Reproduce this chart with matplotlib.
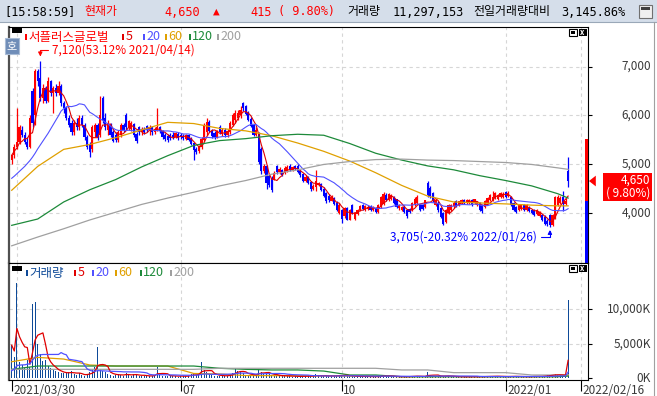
import numpy as np
import pandas as pd
import matplotlib
matplotlib.use("Agg")
import matplotlib.pyplot as plt
from matplotlib.patches import Rectangle, Polygon
from matplotlib.lines import Line2D
from matplotlib.transforms import blended_transform_factory as blend

W, H = 657, 396
KR = ['Noto Sans CJK KR', 'DejaVu Sans']
MONO = ['DejaVu Sans Mono', 'Noto Sans CJK KR']

# ---------------- data ----------------
stock_name = "서플러스글로벌"
clock = "15:58:59"
today_volume = 11297153
volume_ratio = 3145.86
hi_change = 53.12
lo_change = -20.32

holidays = ["2021-05-05", "2021-05-19", "2021-08-16", "2021-09-20", "2021-09-21",
            "2021-09-22", "2021-10-04", "2021-10-11", "2021-12-31", "2022-01-31",
            "2022-02-01", "2022-02-02"]

opens = [5080, 5180, 5350, 5450, 5700, 5600, 5450, 5350, 6500, 6000,
         6900, 6760, 6350, 6550, 6300, 6700, 6450, 6550, 6450, 6600,
         6250, 6150, 5950, 5850, 5650, 5850, 5750, 5950, 5800, 5550,
         5400, 5300, 5650, 5800, 5600, 6350, 5950, 5700, 5800, 5650,
         5600, 5500, 5600, 5800, 6000, 5750, 5720, 5820, 5620, 5750,
         5650, 5720, 5780, 5700, 5750, 5650, 5700, 5760, 5680, 5600,
         5580, 5600, 5600, 5560, 5620, 5600, 5580, 5520, 5590, 5520,
         5420, 5300, 5260, 5340, 5500, 5650, 5860, 5680, 5640, 5560,
         5760, 5610, 5700, 5600, 5650, 5800, 5900, 5950, 6000, 6250,
         6180, 6040, 5920, 5800, 5600, 5620, 5300, 4850, 4950, 4760,
         4720, 4700, 4950, 4830, 4870, 4810, 4850, 4960, 4880, 4950,
         4960, 4860, 4790, 4650, 4740, 4620, 4480, 4530, 4560, 4580,
         4490, 4400, 4350, 4250, 4300, 4200, 3990, 4050, 3930, 4090,
         3860, 4150, 3870, 3980, 4060, 4160, 4060, 4080, 4130, 4050,
         4090, 4020, 4110, 4170, 4360, 4260, 4280, 4330, 4270, 4090,
         4060, 4120, 4060, 4080, 4050, 4150, 4200, 4150, 4150, 4110,
         4600, 4500, 4400, 4160, 4200, 4090, 3990, 3800, 3990, 4050,
         4130, 4230, 4160, 4200, 4260, 4190, 4200, 4260, 4200, 4160,
         4190, 4150, 4120, 4190, 4260, 4260, 4300, 4290, 4330, 4330,
         4430, 4340, 4320, 4190, 4120, 4050, 4080, 4150, 4060, 4100,
         4060, 4050, 3980, 3940, 3960, 3920, 3830, 3950, 3740, 3900,
         4160, 4200, 4320, 4180, 4850]
highs = [5200, 5400, 6150, 5800, 5780, 5650, 5550, 6000, 6550, 6950,
         6950, 7120, 6650, 6600, 6780, 6720, 6600, 6650, 6700, 6650,
         6300, 6200, 6000, 5900, 5900, 5950, 6000, 6000, 5850, 5600,
         5450, 5800, 5850, 5850, 6400, 6400, 6050, 5900, 5850, 5700,
         5650, 5700, 5850, 5850, 6050, 5900, 5880, 5850, 5650, 5780,
         5750, 5760, 5800, 5800, 5780, 5760, 6150, 5780, 5700, 5640,
         5620, 5640, 5650, 5660, 5650, 5640, 5620, 5610, 5620, 5560,
         5440, 5350, 5380, 5560, 5850, 5950, 5900, 5720, 5680, 5700,
         5800, 5740, 5730, 5720, 5880, 6050, 6100, 6100, 6200, 6280,
         6220, 6080, 5960, 5830, 5750, 5650, 5350, 4990, 4970, 4800,
         4750, 4850, 4980, 4940, 4900, 4950, 4980, 5000, 4960, 4980,
         5000, 4880, 4820, 4770, 4760, 4650, 4580, 4880, 4640, 4600,
         4520, 4420, 4380, 4360, 4330, 4230, 4200, 4080, 4120, 4120,
         4080, 4180, 4010, 4080, 4150, 4180, 4160, 4150, 4150, 4130,
         4110, 4170, 4350, 4420, 4400, 4410, 4380, 4350, 4290, 4180,
         4140, 4150, 4080, 4100, 4210, 4320, 4360, 4180, 4170, 4270,
         4650, 4550, 4430, 4290, 4230, 4110, 4010, 4080, 4170, 4180,
         4230, 4260, 4250, 4290, 4280, 4280, 4290, 4280, 4290, 4240,
         4220, 4170, 4260, 4320, 4380, 4440, 4420, 4380, 4420, 4420,
         4450, 4440, 4340, 4210, 4140, 4160, 4170, 4170, 4170, 4130,
         4080, 4070, 4070, 4040, 3980, 3950, 3870, 3980, 3980, 4350,
         4360, 4340, 4450, 4300, 5150]
lows = [5000, 5120, 5300, 5400, 5550, 5400, 5300, 5330, 5750, 5800,
        6600, 6300, 6250, 6250, 6280, 6400, 6050, 6400, 6420, 6200,
        6050, 5900, 5750, 5600, 5600, 5700, 5700, 5750, 5500, 5300,
        5150, 5250, 5550, 5500, 5550, 5850, 5700, 5600, 5550, 5450,
        5450, 5450, 5550, 5650, 5700, 5700, 5680, 5550, 5430, 5600,
        5600, 5620, 5650, 5600, 5600, 5620, 5680, 5640, 5520, 5480,
        5460, 5500, 5520, 5540, 5500, 5520, 5500, 5490, 5470, 5380,
        5080, 5200, 5220, 5300, 5480, 5600, 5650, 5540, 5520, 5540,
        5620, 5580, 5560, 5560, 5620, 5780, 5850, 5900, 5950, 6080,
        6000, 5880, 5750, 5580, 5580, 5000, 4800, 4820, 4480, 4520,
        4430, 4680, 4800, 4800, 4750, 4790, 4830, 4850, 4860, 4870,
        4820, 4740, 4640, 4620, 4580, 4450, 4460, 4450, 4540, 4440,
        4330, 4200, 4220, 4230, 4150, 4030, 3970, 3780, 3900, 3840,
        3840, 3980, 3850, 3960, 4040, 4060, 4040, 4060, 4030, 4030,
        3990, 4000, 4090, 4150, 4230, 4240, 4260, 4170, 4090, 4060,
        4040, 4000, 3900, 4000, 4030, 4130, 4180, 4040, 4060, 4090,
        4330, 4300, 4220, 4140, 4020, 3900, 3750, 3780, 3970, 4030,
        4100, 4110, 4140, 4180, 4180, 4170, 4180, 4140, 4180, 4140,
        4040, 4000, 4100, 4170, 4240, 4240, 4280, 4270, 4310, 4310,
        4300, 4320, 4140, 4030, 4000, 4030, 4060, 4040, 4040, 4010,
        3980, 3940, 3960, 3920, 3830, 3740, 3720, 3705, 3720, 3880,
        4140, 4180, 4030, 4160, 4520]
closes = [5180, 5350, 5450, 5750, 5600, 5450, 5350, 5950, 5850, 6900,
          6700, 6350, 6550, 6300, 6700, 6450, 6550, 6450, 6600, 6250,
          6150, 5950, 5800, 5650, 5850, 5750, 5950, 5800, 5550, 5350,
          5250, 5750, 5800, 5550, 6000, 5900, 5750, 5850, 5600, 5480,
          5500, 5650, 5800, 5700, 5750, 5880, 5850, 5600, 5480, 5650,
          5720, 5650, 5700, 5750, 5650, 5720, 5760, 5680, 5560, 5520,
          5500, 5540, 5560, 5630, 5540, 5560, 5540, 5590, 5500, 5400,
          5280, 5250, 5340, 5520, 5800, 5870, 5680, 5580, 5560, 5680,
          5650, 5700, 5600, 5680, 5850, 6000, 6050, 6050, 6100, 6150,
          6020, 5900, 5780, 5600, 5700, 5050, 4850, 4950, 4600, 4570,
          4470, 4820, 4840, 4900, 4780, 4920, 4940, 4870, 4940, 4900,
          4840, 4770, 4660, 4740, 4600, 4480, 4550, 4640, 4600, 4470,
          4350, 4230, 4260, 4330, 4180, 4050, 4160, 3880, 4090, 3860,
          4060, 4000, 3990, 4060, 4130, 4080, 4140, 4120, 4050, 4110,
          4020, 4150, 4330, 4390, 4260, 4380, 4360, 4190, 4120, 4160,
          4120, 4020, 3930, 4020, 4190, 4290, 4330, 4060, 4080, 4250,
          4360, 4330, 4250, 4260, 4050, 3920, 3770, 4060, 4150, 4160,
          4200, 4130, 4230, 4260, 4200, 4250, 4260, 4160, 4270, 4210,
          4060, 4030, 4240, 4300, 4360, 4330, 4400, 4360, 4400, 4390,
          4320, 4400, 4160, 4050, 4020, 4130, 4150, 4060, 4150, 4030,
          4000, 3960, 4050, 4020, 3850, 3760, 3760, 3740, 3950, 4320,
          4330, 4310, 4180, 4235, 4650]
# volume in thousand shares
volumes = [4800, 3100, 13800, 2400, 2000, 1500, 2600, 1700, 10800, 11100,
           5000, 3500, 2500, 2600, 1800, 1500, 1200, 1000, 900, 800,
           700, 700, 900, 1100, 600, 500, 700, 500, 400, 600,
           900, 1300, 1700, 4500, 1400, 1100, 900, 600, 500, 400,
           500, 600, 500, 400, 700, 500, 400, 600, 500, 400,
           300, 400, 350, 300, 400, 500, 1700, 500, 400, 350,
           300, 350, 400, 300, 250, 300, 350, 300, 400, 600,
           700, 500, 600, 2300, 1200, 900, 600, 500, 400, 400,
           350, 400, 300, 400, 600, 800, 1500, 1100, 900, 700,
           500, 400, 500, 600, 500, 1300, 900, 600, 800, 600,
           500, 400, 400, 350, 300, 400, 350, 300, 250, 300,
           250, 300, 350, 300, 300, 350, 300, 600, 300, 300,
           350, 400, 350, 300, 350, 400, 450, 500, 400, 350,
           300, 300, 250, 300, 250, 250, 300, 250, 200, 250,
           250, 250, 400, 450, 300, 300, 250, 300, 250, 200,
           200, 250, 300, 250, 300, 350, 350, 250, 200, 250,
           960, 500, 350, 250, 300, 350, 400, 400, 300, 250,
           250, 200, 250, 200, 200, 250, 200, 250, 250, 200,
           250, 250, 250, 300, 300, 350, 300, 250, 250, 250,
           300, 250, 300, 300, 250, 250, 200, 250, 250, 250,
           250, 300, 250, 250, 300, 400, 450, 500, 450, 600,
           500, 450, 400, 359, 11297]

ma20_head = [4706, 4750, 4800, 4850, 4900, 4950, 5010, 5070, 5140, 5220,
             5310, 5390, 5470, 5550, 5630, 5720, 5810, 5900, 5990]
vol_ma20_head = [1100, 1300, 1850, 1900, 1950, 1950, 2050, 2100, 2600, 3100,
                 3350, 3400, 3450, 3450, 3460, 3460, 3460, 3460, 3460]
ma_days = list(range(0, 211, 10)) + [214]
ma60 = [4460, 4950, 5300, 5400, 5540, 5700, 5855, 5830, 5730, 5680, 5580, 5430,
        5260, 5060, 4820, 4560, 4340, 4220, 4200, 4180, 4155, 4140, 4140]
ma120 = [3740, 3870, 4220, 4470, 4680, 4940, 5170, 5380, 5480, 5520, 5580, 5610,
         5590, 5420, 5220, 5080, 4960, 4880, 4760, 4660, 4550, 4390, 4300]
ma200 = [3320, 3500, 3670, 3850, 4010, 4170, 4300, 4420, 4550, 4660, 4790, 4880,
         4990, 5050, 5090, 5100, 5080, 5070, 5050, 5030, 4990, 4920, 4890]
vol_ma60 = [2400, 3030, 2790, 1930, 1780, 1780, 1780, 700, 620, 400, 380, 380,
            350, 330, 330, 230, 230, 250, 230, 230, 230, 240, 420]
vol_ma120 = [1300, 1780, 1780, 1780, 1780, 1780, 1780, 1780, 1450, 1300, 1210, 1210,
             1050, 480, 480, 230, 230, 230, 230, 230, 230, 230, 320]
vol_ma200 = [1300, 1300, 1300, 1300, 1300, 1300, 1300, 1300, 1450, 1450, 1450, 1450,
             1450, 1450, 1450, 1210, 1210, 820, 820, 820, 480, 480, 530]

tick_dates = ["2021-03-30", "2021-07-01", "2021-10-01", "2022-01-03", "2022-02-16"]
tick_labels = ["2021/03/30", "07", "10", "2022/01", "2022/02/16"]
grid_dates = ["2021-04-01", "2021-07-01", "2021-10-01", "2022-01-03", "2022-02-16"]
price_ticks = [4000, 5000, 6000, 7000]
vol_ticks = [0, 5000, 10000]

# ---------------- derived ----------------
dates = pd.bdate_range("2021-03-30", "2022-02-16")
dates = dates[~dates.isin(pd.to_datetime(holidays))]
pos = {d.strftime("%Y-%m-%d"): i for i, d in enumerate(dates)}

o, h, l, c = map(np.array, (opens, highs, lows, closes))
v = np.array(volumes)
x = np.arange(len(c))
cs = pd.Series(c, dtype=float)
vs = pd.Series(v, dtype=float)
ma5 = cs.rolling(5, min_periods=1).mean()
ma20 = cs.rolling(20).mean()
ma20.iloc[:19] = ma20_head
vma5 = vs.rolling(5, min_periods=1).mean()
vma20 = vs.rolling(20).mean()
vma20.iloc[:19] = vol_ma20_head

last, prev = c[-1], c[-2]
chg = last - prev
pct = chg / prev * 100

UP, DOWN = '#ff0000', '#0000ff'
MA_COLORS = ['#e00000', '#5050ff', '#e0a000', '#1d8a3a', '#a0a0a0']
GRID = dict(color='#d6d6d6', lw=0.8, dashes=(3, 3), zorder=0)


def fx(px):
    return px / W


def fy(py):
    return 1 - py / H


def ptext(px, py, s, **kw):
    fig.text(fx(px), fy(py), s, **kw)


def prect(px, py, w, hh, **kw):
    fig.add_artist(Rectangle((fx(px), fy(py + hh)), w / W, hh / H,
                             transform=fig.transFigure, **kw))


def pline(xs, ys, **kw):
    fig.add_artist(Line2D([fx(a) for a in xs], [fy(b) for b in ys],
                          transform=fig.transFigure, **kw))


fig = plt.figure(figsize=(W / 100, H / 100), dpi=100)
fig.patch.set_facecolor('white')

# header
prect(0, 0, W, 22, facecolor='#d5deea', edgecolor='none', zorder=0)
pline([0, W], [22, 22], color='#9aa8b8', lw=0.8)
hy = 12
ptext(4, hy, f"[{clock}]", color='black', fontsize=8.6, family=MONO, va='center')
ptext(84, hy, "현재가", color='red', fontsize=8.6, family=MONO, va='center')
ptext(200, hy, f"{last:,}", color='red', fontsize=8.6, family=MONO, va='center', ha='right')
ptext(216, hy, "▲", color='red', fontsize=8, family=MONO, va='center', ha='center')
ptext(272, hy, f"{chg:,}", color='red', fontsize=8.6, family=MONO, va='center', ha='right')
ptext(278, hy, f"( {pct:.2f}%)", color='red', fontsize=8.6, family=MONO, va='center')
ptext(347, hy, "거래량", color='black', fontsize=8.6, family=MONO, va='center')
ptext(393, hy, f"{today_volume:,}", color='black', fontsize=8.6, family=MONO, va='center')
ptext(473, hy, "전일거래량대비", color='black', fontsize=8.6, family=MONO, va='center')
ptext(561, hy, f"{volume_ratio:,.2f}%", color='black', fontsize=8.6, family=MONO, va='center')
prect(639, 5, 13, 13, facecolor='#f0f0f0', edgecolor='#707070', lw=0.8)
prect(641, 7, 9, 3, facecolor='#404040', edgecolor='none')
pline([654, 654], [22, H], color='#a0a0a0', lw=0.8)

# panels
ax = fig.add_axes([fx(9), fy(263), (588 - 9) / W, (263 - 27) / H])
axv = fig.add_axes([fx(9), fy(380), (588 - 9) / W, (380 - 263) / H])
xlim = (-1.04, 221.65)
for a in (ax, axv):
    a.set_xlim(*xlim)
    for s in a.spines.values():
        s.set_color('black')
        s.set_linewidth(0.8)
    a.spines['left'].set_color('#505050')
    a.spines['left'].set_linewidth(1.6)
    for d in grid_dates:
        a.axvline(pos[d], **GRID)
    a.yaxis.tick_right()
    a.tick_params(axis='y', direction='out', length=3, width=0.8, labelright=False)

ax.set_ylim(2967, 7812)
ax.set_xticks([])
ax.set_yticks(price_ticks)
for p in price_ticks:
    ax.axhline(p, **GRID)
axv.set_ylim(-246, 16710)
axv.set_yticks(vol_ticks)
for p in vol_ticks[1:]:
    axv.axhline(p, **GRID)
axv.set_xticks([pos[d] for d in tick_dates])
axv.tick_params(axis='x', direction='out', length=8, width=0.8, labelbottom=False)

# candles
up = c >= o
col = np.where(up, UP, DOWN)
ax.vlines(x, l, h, colors=col, lw=0.9, zorder=3)
ax.bar(x, np.abs(c - o) + 1, bottom=np.minimum(o, c), width=0.82, color=col,
       linewidth=0, zorder=3, antialiased=False)

# moving averages
ax.plot(x, ma5, color=MA_COLORS[0], lw=0.8, zorder=4)
ax.plot(x, ma20, color=MA_COLORS[1], lw=0.8, zorder=4)
ax.plot(ma_days, ma60, color=MA_COLORS[2], lw=0.9, zorder=4)
ax.plot(ma_days, ma120, color=MA_COLORS[3], lw=0.9, zorder=4)
ax.plot(ma_days, ma200, color=MA_COLORS[4], lw=0.9, zorder=4)

# volume
axv.bar(x, v, width=0.45, color='#0e4a98', linewidth=0, zorder=2, antialiased=False)
axv.plot(x, vma5, color=MA_COLORS[0], lw=0.9, zorder=4)
axv.plot(x, vma20, color=MA_COLORS[1], lw=0.9, zorder=4)
axv.plot(ma_days, vol_ma60, color=MA_COLORS[2], lw=0.9, zorder=3)
axv.plot(ma_days, vol_ma120, color=MA_COLORS[3], lw=0.9, zorder=3)
axv.plot(ma_days, vol_ma200, color=MA_COLORS[4], lw=0.9, zorder=3)

# high / low annotations
ih, il = int(np.argmax(h)), int(np.argmin(l))
ax.annotate(f"{h[ih]:,}({hi_change:.2f}% {dates[ih]:%Y/%m/%d})", xy=(ih, h[ih]),
            xytext=(12, 11), textcoords='offset pixels', color='red', fontsize=8.5,
            family=KR, ha='left', va='center', zorder=6,
            arrowprops=dict(arrowstyle='-|>', color='red', lw=0.8, shrinkA=1, shrinkB=3,
                            mutation_scale=6,
                            connectionstyle='angle,angleA=0,angleB=90,rad=0'))
ax.annotate(f"{l[il]:,}({lo_change:.2f}% {dates[il]:%Y/%m/%d})", xy=(il, l[il]),
            xytext=(-13, -10), textcoords='offset pixels', color='blue', fontsize=8.5,
            family=KR, ha='right', va='center', zorder=6,
            arrowprops=dict(arrowstyle='-|>', color='blue', lw=0.8, shrinkA=1, shrinkB=2,
                            mutation_scale=6,
                            connectionstyle='angle,angleA=0,angleB=90,rad=0'))

# price limit bar and current price marker
bt = blend(ax.transAxes, ax.transData)
ax.add_patch(Rectangle((0.9948, prev), 0.0052, prev * 0.3, transform=bt,
                       facecolor='red', edgecolor='none', clip_on=False, zorder=5))
ax.add_patch(Rectangle((0.9948, prev * 0.7), 0.0052, prev * 0.3, transform=bt,
                       facecolor='blue', edgecolor='none', clip_on=True, zorder=5))
ax.add_patch(Polygon([(1.0017, last), (1.0135, last + 110), (1.0135, last - 110)],
                     transform=bt, facecolor='red', edgecolor='none', clip_on=False))
prect(603, 173, 49, 28, facecolor='red', edgecolor='none')
ptext(650, 180.5, f"{last:,}", color='white', fontsize=8.5, family=KR, ha='right', va='center')
ptext(650, 193.5, f"( {pct:.2f}%)", color='white', fontsize=8.5, family=KR, ha='right', va='center')

# axis labels
lx = (651 - 9) / (588 - 9)
for p in price_ticks:
    ax.text(lx, p, f"{p:,}", transform=bt, ha='right', va='center', fontsize=8.5,
            family=KR, color='#3a3a3a', clip_on=False)
bv = blend(axv.transAxes, axv.transData)
for p in vol_ticks:
    axv.text(lx, p, f"{p:,}K", transform=bv, ha='right', va='center', fontsize=8.5,
             family=KR, color='#3a3a3a', clip_on=False)
bx = blend(axv.transData, axv.transAxes)
for d, lab in zip(tick_dates, tick_labels):
    axv.text(pos[d] + 0.5, -0.03, lab, transform=bx, ha='left', va='top', fontsize=8.5,
             family=KR, color='#3a3a3a', clip_on=False)

# legends
prect(12, 28, 10, 5, facecolor='black', edgecolor='none')
items = [(stock_name, UP, 25), ("5", MA_COLORS[0], 122), ("20", MA_COLORS[1], 143),
         ("60", MA_COLORS[2], 164.5), ("120", MA_COLORS[3], 188.5), ("200", MA_COLORS[4], 217)]
for lab, colr, px in items:
    prect(px, 34, 2, 6, facecolor=colr, edgecolor='none')
    ptext(px + 3.5, 37, lab, color=colr, fontsize=9, family=KR, va='center')
prect(12, 266, 10, 5, facecolor='black', edgecolor='none')
vitems = [("거래량", '#0e4a98', 26), ("5", MA_COLORS[0], 74), ("20", MA_COLORS[1], 92),
          ("60", MA_COLORS[2], 115), ("120", MA_COLORS[3], 139.5), ("200", MA_COLORS[4], 170)]
for lab, colr, px in vitems:
    prect(px, 270, 2, 6, facecolor=colr, edgecolor='none')
    ptext(px + 3.5, 273, lab, color=colr, fontsize=9, family=KR, va='center')

# "호" button and panel icons
prect(5, 38, 14, 16, facecolor='#6f8db8', edgecolor='#a9bcd6', lw=0.8, zorder=7)
ptext(12, 46, "호", color='white', fontsize=8, family=KR, ha='center', va='center', zorder=8)
for ty in (29, 265):
    prect(568.5, ty, 8, 7, facecolor='white', edgecolor='black', lw=0.8)
    prect(570.5, ty + 2, 4, 3, facecolor='black', edgecolor='none')
    prect(578.5, ty, 8, 7, facecolor='black', edgecolor='none')
    ptext(582.5, ty + 3.5, "x", color='white', fontsize=5.5, family=KR, ha='center',
          va='center', fontweight='bold')

fig.savefig("out.png", dpi=100)
